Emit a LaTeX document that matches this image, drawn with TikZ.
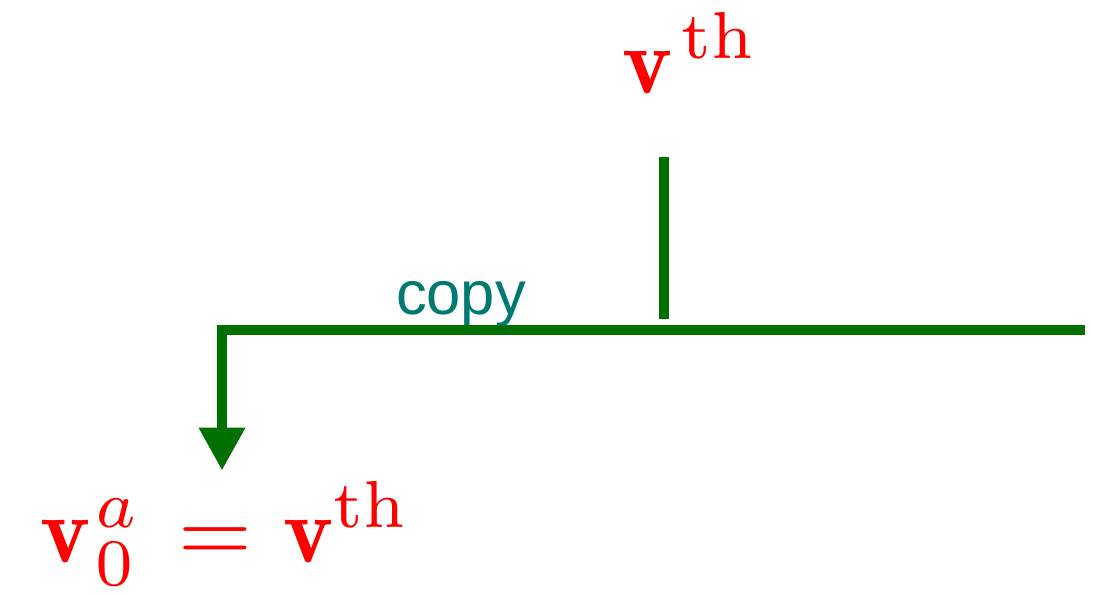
\documentclass[tikz,border=0pt]{standalone}
\usepackage{amsmath,amssymb}
\usepackage{fontspec}
\newfontfamily\labelfont{Liberation Sans}
\usetikzlibrary{arrows.meta,calc}
\definecolor{busgreen}{RGB}{0,112,0}
\definecolor{copyteal}{RGB}{0,122,112}
\tikzset{
  bus/.style={line width=2.85pt,busgreen,line join=miter},
  vlabel/.style={inner sep=0pt,text=red,scale=2.7},
  oplabel/.style={inner sep=0pt,text=copyteal,font=\labelfont\fontsize{17.5}{20}\selectfont}
}
\begin{document}
\begin{tikzpicture}[x=0.01cm,y=-0.01cm]
  \useasboundingbox (0,0) rectangle (1093,593);
  \node[vlabel,anchor=base west] (vth) at (621,93) {$\mathbf{v}^{\mkern2mu\mathrm{th}}$};
  \node[vlabel,anchor=base west] (vzero) at (39,562)
    {$\mathbf{v}^{\mkern1mu a}_{\mkern1mu 0}\mkern2mu=\mkern1mu\mathbf{v}^{\mathrm{th}}$};
  \coordinate (split) at (664,319);
  \coordinate (busR) at (1085,330);
  \coordinate (busL) at (222,330);
  \node[oplabel,anchor=base] (copylbl) at (461,314) {copy};
  \draw[bus,shorten <=0.62cm] (split |- vth.south) -- (split);
  \draw[bus,-{Triangle[width=0.44cm,length=0.43cm]},shorten >=0.09cm] (busR) -- (busL) -- (busL |- vzero.north);
\end{tikzpicture}
\end{document}
